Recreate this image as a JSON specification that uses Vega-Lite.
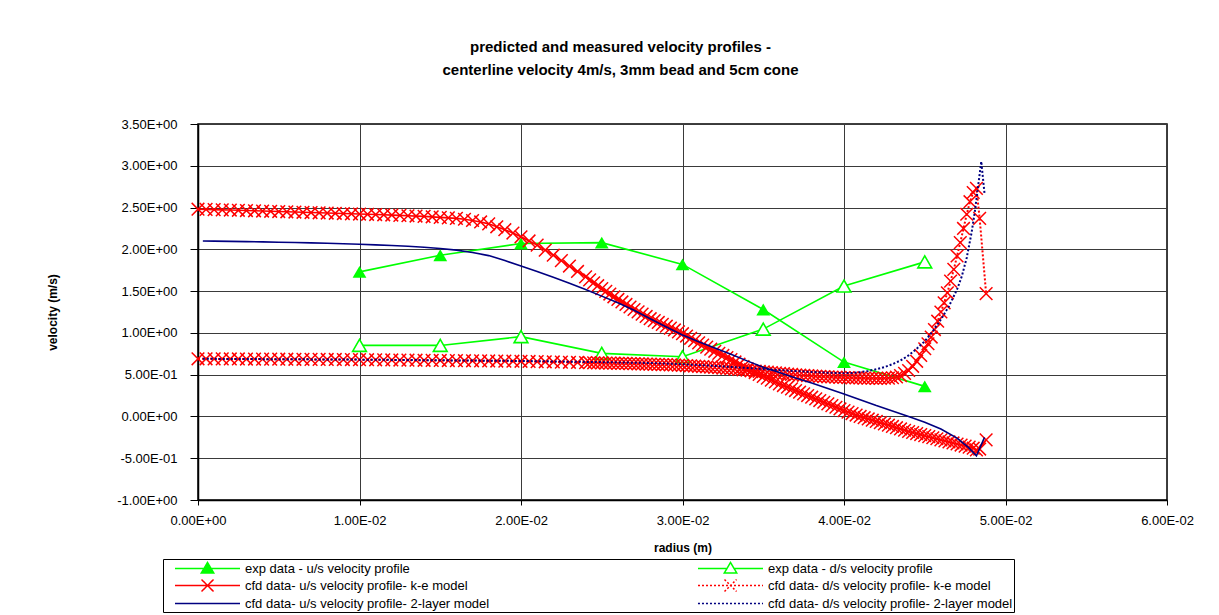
{
  "$schema": "https://vega.github.io/schema/vega-lite/v6.json",
  "width": 969,
  "height": 376,
  "autosize": {"type": "none"},
  "padding": {"left": 198, "top": 124, "right": 52, "bottom": 115},
  "background": "white",
  "title": {
    "text": ["predicted and measured velocity profiles -", "centerline velocity 4m/s, 3mm bead and 5cm cone"],
    "font": "Liberation Sans",
    "fontSize": 15,
    "fontWeight": "bold",
    "color": "black",
    "anchor": "middle",
    "frame": "group",
    "dx": -62,
    "offset": 40,
    "lineHeight": 23
  },
  "datasets": {
    "expU": [
      {"r": 0.01, "v": 1.73}, {"r": 0.015, "v": 1.93}, {"r": 0.02, "v": 2.07}, {"r": 0.025, "v": 2.08},
      {"r": 0.03, "v": 1.82}, {"r": 0.035, "v": 1.28}, {"r": 0.04, "v": 0.65}, {"r": 0.045, "v": 0.36}
    ],
    "expD": [
      {"r": 0.01, "v": 0.85}, {"r": 0.015, "v": 0.85}, {"r": 0.02, "v": 0.955}, {"r": 0.025, "v": 0.755},
      {"r": 0.03, "v": 0.715}, {"r": 0.035, "v": 1.045}, {"r": 0.04, "v": 1.56}, {"r": 0.045, "v": 1.85}
    ],
    "keU": [
      {"r": 0, "v": 2.48}, {"r": 0.0005, "v": 2.478}, {"r": 0.001, "v": 2.475}, {"r": 0.0015, "v": 2.472},
      {"r": 0.002, "v": 2.47}, {"r": 0.0025, "v": 2.467}, {"r": 0.003, "v": 2.464}, {"r": 0.0035, "v": 2.461},
      {"r": 0.004, "v": 2.458}, {"r": 0.0045, "v": 2.455}, {"r": 0.005, "v": 2.452}, {"r": 0.0055, "v": 2.449},
      {"r": 0.006, "v": 2.446}, {"r": 0.0065, "v": 2.443}, {"r": 0.007, "v": 2.44}, {"r": 0.0075, "v": 2.437},
      {"r": 0.008, "v": 2.434}, {"r": 0.0085, "v": 2.431}, {"r": 0.009, "v": 2.428}, {"r": 0.0095, "v": 2.425},
      {"r": 0.01, "v": 2.422}, {"r": 0.0105, "v": 2.419}, {"r": 0.011, "v": 2.416}, {"r": 0.0115, "v": 2.413},
      {"r": 0.012, "v": 2.41}, {"r": 0.0125, "v": 2.406}, {"r": 0.013, "v": 2.402}, {"r": 0.0135, "v": 2.398},
      {"r": 0.014, "v": 2.394}, {"r": 0.0145, "v": 2.389}, {"r": 0.015, "v": 2.383}, {"r": 0.0155, "v": 2.377},
      {"r": 0.016, "v": 2.37}, {"r": 0.0165, "v": 2.36}, {"r": 0.017, "v": 2.345}, {"r": 0.0175, "v": 2.328},
      {"r": 0.018, "v": 2.305}, {"r": 0.0185, "v": 2.27}, {"r": 0.019, "v": 2.235}, {"r": 0.0195, "v": 2.195},
      {"r": 0.02, "v": 2.15}, {"r": 0.0205, "v": 2.1}, {"r": 0.021, "v": 2.05}, {"r": 0.0215, "v": 1.99},
      {"r": 0.022, "v": 1.93}, {"r": 0.0225, "v": 1.865}, {"r": 0.023, "v": 1.8}, {"r": 0.0235, "v": 1.735},
      {"r": 0.024, "v": 1.67}, {"r": 0.02425, "v": 1.635}, {"r": 0.0245, "v": 1.6}, {"r": 0.02475, "v": 1.565},
      {"r": 0.025, "v": 1.53}, {"r": 0.02525, "v": 1.497}, {"r": 0.0255, "v": 1.465}, {"r": 0.02575, "v": 1.432},
      {"r": 0.026, "v": 1.4}, {"r": 0.02625, "v": 1.37}, {"r": 0.0265, "v": 1.34}, {"r": 0.02675, "v": 1.31},
      {"r": 0.027, "v": 1.28}, {"r": 0.02725, "v": 1.252}, {"r": 0.0275, "v": 1.225}, {"r": 0.02775, "v": 1.197},
      {"r": 0.028, "v": 1.17}, {"r": 0.02825, "v": 1.147}, {"r": 0.0285, "v": 1.125}, {"r": 0.02875, "v": 1.102},
      {"r": 0.029, "v": 1.08}, {"r": 0.02925, "v": 1.057}, {"r": 0.0295, "v": 1.035}, {"r": 0.02975, "v": 1.012},
      {"r": 0.03, "v": 0.99}, {"r": 0.03025, "v": 0.962}, {"r": 0.0305, "v": 0.935}, {"r": 0.03075, "v": 0.907},
      {"r": 0.031, "v": 0.88}, {"r": 0.03125, "v": 0.855}, {"r": 0.0315, "v": 0.83}, {"r": 0.03175, "v": 0.805},
      {"r": 0.032, "v": 0.78}, {"r": 0.03225, "v": 0.755}, {"r": 0.0325, "v": 0.73}, {"r": 0.03275, "v": 0.705},
      {"r": 0.033, "v": 0.68}, {"r": 0.03325, "v": 0.652}, {"r": 0.0335, "v": 0.625}, {"r": 0.03375, "v": 0.597},
      {"r": 0.034, "v": 0.57}, {"r": 0.03425, "v": 0.547}, {"r": 0.0345, "v": 0.525}, {"r": 0.03475, "v": 0.502},
      {"r": 0.035, "v": 0.48}, {"r": 0.03525, "v": 0.457}, {"r": 0.0355, "v": 0.435}, {"r": 0.03575, "v": 0.412},
      {"r": 0.036, "v": 0.39}, {"r": 0.03625, "v": 0.37}, {"r": 0.0365, "v": 0.35}, {"r": 0.03675, "v": 0.33},
      {"r": 0.037, "v": 0.31}, {"r": 0.03725, "v": 0.29}, {"r": 0.0375, "v": 0.27}, {"r": 0.03775, "v": 0.25},
      {"r": 0.038, "v": 0.23}, {"r": 0.03825, "v": 0.21}, {"r": 0.0385, "v": 0.19}, {"r": 0.03875, "v": 0.17},
      {"r": 0.039, "v": 0.15}, {"r": 0.03925, "v": 0.13}, {"r": 0.0395, "v": 0.11}, {"r": 0.03975, "v": 0.09},
      {"r": 0.04, "v": 0.07}, {"r": 0.04025, "v": 0.052}, {"r": 0.0405, "v": 0.035}, {"r": 0.04075, "v": 0.017},
      {"r": 0.041, "v": 0.0}, {"r": 0.04125, "v": -0.015}, {"r": 0.0415, "v": -0.03}, {"r": 0.04175, "v": -0.045},
      {"r": 0.042, "v": -0.06}, {"r": 0.04225, "v": -0.075}, {"r": 0.0425, "v": -0.09}, {"r": 0.04275, "v": -0.105},
      {"r": 0.043, "v": -0.12}, {"r": 0.04325, "v": -0.135}, {"r": 0.0435, "v": -0.15}, {"r": 0.04375, "v": -0.165},
      {"r": 0.044, "v": -0.18}, {"r": 0.04425, "v": -0.192}, {"r": 0.0445, "v": -0.205}, {"r": 0.04475, "v": -0.217},
      {"r": 0.045, "v": -0.23}, {"r": 0.04525, "v": -0.242}, {"r": 0.0455, "v": -0.255}, {"r": 0.04575, "v": -0.267},
      {"r": 0.046, "v": -0.28}, {"r": 0.04625, "v": -0.292}, {"r": 0.0465, "v": -0.305}, {"r": 0.04675, "v": -0.317},
      {"r": 0.047, "v": -0.33}, {"r": 0.04725, "v": -0.342}, {"r": 0.0475, "v": -0.355}, {"r": 0.04775, "v": -0.367},
      {"r": 0.048, "v": -0.38}, {"r": 0.0482, "v": -0.4}, {"r": 0.0484, "v": -0.39}, {"r": 0.0488, "v": -0.28}
    ],
    "keD": [
      {"r": 0, "v": 0.69}, {"r": 0.0005, "v": 0.69}, {"r": 0.001, "v": 0.689}, {"r": 0.0015, "v": 0.689},
      {"r": 0.002, "v": 0.688}, {"r": 0.0025, "v": 0.688}, {"r": 0.003, "v": 0.687}, {"r": 0.0035, "v": 0.687},
      {"r": 0.004, "v": 0.686}, {"r": 0.0045, "v": 0.686}, {"r": 0.005, "v": 0.685}, {"r": 0.0055, "v": 0.685},
      {"r": 0.006, "v": 0.684}, {"r": 0.0065, "v": 0.684}, {"r": 0.007, "v": 0.683}, {"r": 0.0075, "v": 0.683},
      {"r": 0.008, "v": 0.682}, {"r": 0.0085, "v": 0.682}, {"r": 0.009, "v": 0.681}, {"r": 0.0095, "v": 0.681},
      {"r": 0.01, "v": 0.68}, {"r": 0.0105, "v": 0.679}, {"r": 0.011, "v": 0.678}, {"r": 0.0115, "v": 0.677},
      {"r": 0.012, "v": 0.676}, {"r": 0.0125, "v": 0.675}, {"r": 0.013, "v": 0.674}, {"r": 0.0135, "v": 0.673},
      {"r": 0.014, "v": 0.672}, {"r": 0.0145, "v": 0.671}, {"r": 0.015, "v": 0.67}, {"r": 0.0155, "v": 0.669},
      {"r": 0.016, "v": 0.668}, {"r": 0.0165, "v": 0.667}, {"r": 0.017, "v": 0.666}, {"r": 0.0175, "v": 0.665},
      {"r": 0.018, "v": 0.664}, {"r": 0.0185, "v": 0.663}, {"r": 0.019, "v": 0.662}, {"r": 0.0195, "v": 0.661},
      {"r": 0.02, "v": 0.66}, {"r": 0.0205, "v": 0.658}, {"r": 0.021, "v": 0.656}, {"r": 0.0215, "v": 0.654},
      {"r": 0.022, "v": 0.652}, {"r": 0.0225, "v": 0.65}, {"r": 0.023, "v": 0.648}, {"r": 0.0235, "v": 0.646},
      {"r": 0.024, "v": 0.644}, {"r": 0.02425, "v": 0.643}, {"r": 0.0245, "v": 0.642}, {"r": 0.02475, "v": 0.641},
      {"r": 0.025, "v": 0.64}, {"r": 0.02525, "v": 0.639}, {"r": 0.0255, "v": 0.638}, {"r": 0.02575, "v": 0.637},
      {"r": 0.026, "v": 0.636}, {"r": 0.02625, "v": 0.635}, {"r": 0.0265, "v": 0.634}, {"r": 0.02675, "v": 0.632},
      {"r": 0.027, "v": 0.631}, {"r": 0.02725, "v": 0.63}, {"r": 0.0275, "v": 0.628}, {"r": 0.02775, "v": 0.627},
      {"r": 0.028, "v": 0.626}, {"r": 0.02825, "v": 0.624}, {"r": 0.0285, "v": 0.623}, {"r": 0.02875, "v": 0.621},
      {"r": 0.029, "v": 0.62}, {"r": 0.02925, "v": 0.618}, {"r": 0.0295, "v": 0.616}, {"r": 0.02975, "v": 0.614},
      {"r": 0.03, "v": 0.612}, {"r": 0.03025, "v": 0.609}, {"r": 0.0305, "v": 0.606}, {"r": 0.03075, "v": 0.603},
      {"r": 0.031, "v": 0.6}, {"r": 0.03125, "v": 0.597}, {"r": 0.0315, "v": 0.594}, {"r": 0.03175, "v": 0.59},
      {"r": 0.032, "v": 0.587}, {"r": 0.03225, "v": 0.583}, {"r": 0.0325, "v": 0.579}, {"r": 0.03275, "v": 0.575},
      {"r": 0.033, "v": 0.571}, {"r": 0.03325, "v": 0.567}, {"r": 0.0335, "v": 0.562}, {"r": 0.03375, "v": 0.558},
      {"r": 0.034, "v": 0.553}, {"r": 0.03425, "v": 0.549}, {"r": 0.0345, "v": 0.544}, {"r": 0.03475, "v": 0.539},
      {"r": 0.035, "v": 0.535}, {"r": 0.03525, "v": 0.53}, {"r": 0.0355, "v": 0.526}, {"r": 0.03575, "v": 0.521},
      {"r": 0.036, "v": 0.517}, {"r": 0.03625, "v": 0.512}, {"r": 0.0365, "v": 0.508}, {"r": 0.03675, "v": 0.503},
      {"r": 0.037, "v": 0.499}, {"r": 0.03725, "v": 0.495}, {"r": 0.0375, "v": 0.491}, {"r": 0.03775, "v": 0.488},
      {"r": 0.038, "v": 0.485}, {"r": 0.03825, "v": 0.482}, {"r": 0.0385, "v": 0.479}, {"r": 0.03875, "v": 0.476},
      {"r": 0.039, "v": 0.474}, {"r": 0.03925, "v": 0.472}, {"r": 0.0395, "v": 0.47}, {"r": 0.03975, "v": 0.468},
      {"r": 0.04, "v": 0.466}, {"r": 0.04025, "v": 0.464}, {"r": 0.0405, "v": 0.462}, {"r": 0.04075, "v": 0.461},
      {"r": 0.041, "v": 0.46}, {"r": 0.04125, "v": 0.459}, {"r": 0.0415, "v": 0.458}, {"r": 0.04175, "v": 0.457},
      {"r": 0.042, "v": 0.456}, {"r": 0.04225, "v": 0.456}, {"r": 0.0425, "v": 0.457}, {"r": 0.04275, "v": 0.459},
      {"r": 0.043, "v": 0.463}, {"r": 0.04325, "v": 0.472}, {"r": 0.0435, "v": 0.488}, {"r": 0.04375, "v": 0.515},
      {"r": 0.044, "v": 0.55}, {"r": 0.04425, "v": 0.6}, {"r": 0.0445, "v": 0.66}, {"r": 0.04475, "v": 0.73},
      {"r": 0.045, "v": 0.81}, {"r": 0.0452, "v": 0.87}, {"r": 0.0454, "v": 0.95}, {"r": 0.0456, "v": 1.04},
      {"r": 0.0458, "v": 1.14}, {"r": 0.046, "v": 1.25}, {"r": 0.0462, "v": 1.36}, {"r": 0.0464, "v": 1.48},
      {"r": 0.0466, "v": 1.62}, {"r": 0.0468, "v": 1.76}, {"r": 0.047, "v": 1.92}, {"r": 0.0472, "v": 2.08},
      {"r": 0.0474, "v": 2.25}, {"r": 0.0476, "v": 2.42}, {"r": 0.0478, "v": 2.57}, {"r": 0.048, "v": 2.68},
      {"r": 0.0482, "v": 2.73}, {"r": 0.0484, "v": 2.37}, {"r": 0.0488, "v": 1.47}
    ],
    "tlU": [
      {"r": 0.0003, "v": 2.1}, {"r": 0.001, "v": 2.098}, {"r": 0.002, "v": 2.095}, {"r": 0.003, "v": 2.092},
      {"r": 0.004, "v": 2.089}, {"r": 0.005, "v": 2.085}, {"r": 0.006, "v": 2.081}, {"r": 0.007, "v": 2.077},
      {"r": 0.008, "v": 2.072}, {"r": 0.009, "v": 2.066}, {"r": 0.01, "v": 2.06}, {"r": 0.011, "v": 2.053},
      {"r": 0.012, "v": 2.045}, {"r": 0.013, "v": 2.036}, {"r": 0.014, "v": 2.025}, {"r": 0.015, "v": 2.01},
      {"r": 0.016, "v": 1.99}, {"r": 0.017, "v": 1.962}, {"r": 0.018, "v": 1.925}, {"r": 0.019, "v": 1.866},
      {"r": 0.02, "v": 1.8}, {"r": 0.021, "v": 1.735}, {"r": 0.022, "v": 1.665}, {"r": 0.023, "v": 1.595},
      {"r": 0.024, "v": 1.52}, {"r": 0.025, "v": 1.44}, {"r": 0.026, "v": 1.36}, {"r": 0.027, "v": 1.27},
      {"r": 0.028, "v": 1.17}, {"r": 0.029, "v": 1.07}, {"r": 0.03, "v": 0.975}, {"r": 0.031, "v": 0.895},
      {"r": 0.032, "v": 0.82}, {"r": 0.033, "v": 0.745}, {"r": 0.034, "v": 0.665}, {"r": 0.035, "v": 0.59},
      {"r": 0.036, "v": 0.525}, {"r": 0.037, "v": 0.46}, {"r": 0.038, "v": 0.4}, {"r": 0.039, "v": 0.335},
      {"r": 0.04, "v": 0.27}, {"r": 0.041, "v": 0.2}, {"r": 0.042, "v": 0.13}, {"r": 0.043, "v": 0.065},
      {"r": 0.044, "v": 0.0}, {"r": 0.045, "v": -0.07}, {"r": 0.046, "v": -0.15}, {"r": 0.047, "v": -0.26},
      {"r": 0.0477, "v": -0.37}, {"r": 0.0482, "v": -0.47}, {"r": 0.0487, "v": -0.25}
    ],
    "tlD": [
      {"r": 0.0003, "v": 0.69}, {"r": 0.002, "v": 0.688}, {"r": 0.005, "v": 0.685}, {"r": 0.01, "v": 0.68},
      {"r": 0.015, "v": 0.672}, {"r": 0.02, "v": 0.664}, {"r": 0.025, "v": 0.65}, {"r": 0.028, "v": 0.64},
      {"r": 0.03, "v": 0.625}, {"r": 0.032, "v": 0.605}, {"r": 0.034, "v": 0.58}, {"r": 0.035, "v": 0.567},
      {"r": 0.036, "v": 0.555}, {"r": 0.037, "v": 0.543}, {"r": 0.038, "v": 0.532}, {"r": 0.039, "v": 0.523},
      {"r": 0.04, "v": 0.518}, {"r": 0.0405, "v": 0.52}, {"r": 0.041, "v": 0.53}, {"r": 0.0415, "v": 0.545},
      {"r": 0.042, "v": 0.565}, {"r": 0.0425, "v": 0.59}, {"r": 0.043, "v": 0.625}, {"r": 0.0435, "v": 0.67},
      {"r": 0.044, "v": 0.73}, {"r": 0.0445, "v": 0.81}, {"r": 0.045, "v": 0.9}, {"r": 0.0455, "v": 1.02},
      {"r": 0.046, "v": 1.16}, {"r": 0.0465, "v": 1.32}, {"r": 0.047, "v": 1.52}, {"r": 0.0473, "v": 1.68},
      {"r": 0.0476, "v": 1.9}, {"r": 0.0479, "v": 2.2}, {"r": 0.0481, "v": 2.45}, {"r": 0.0483, "v": 2.75},
      {"r": 0.0485, "v": 3.05}, {"r": 0.0487, "v": 2.67}
    ],
    "legend": [
      {"series": "exp data - u/s velocity profile", "r": 0.01, "v": 1.73},
      {"series": "exp data - d/s velocity profile", "r": 0.01, "v": 0.85},
      {"series": "cfd data- u/s velocity profile- k-e model", "r": 0, "v": 2.48},
      {"series": "cfd data- d/s velocity profile- k-e model", "r": 0, "v": 0.69},
      {"series": "cfd data- u/s velocity profile- 2-layer model", "r": 0.0003, "v": 2.1},
      {"series": "cfd data- d/s velocity profile- 2-layer model", "r": 0.0003, "v": 0.69}
    ]
  },
  "encoding": {
    "x": {
      "field": "r",
      "type": "quantitative",
      "scale": {"domain": [0, 0.06], "nice": false, "zero": false},
      "axis": {
        "title": "radius (m)",
        "values": [0, 0.01, 0.02, 0.03, 0.04, 0.05, 0.06],
        "labelExpr": "replace(replace(replace(format(datum.value, '.2e'), '\u2212', '-'), 'e+', 'E+0'), 'e-', 'E-0')",
        "labelFlush": false,
        "labelOverlap": false,
        "tickSize": 5,
        "labelPadding": 9,
        "titlePadding": 15
      }
    },
    "y": {
      "field": "v",
      "type": "quantitative",
      "scale": {"domain": [-1, 3.5], "nice": false, "zero": false},
      "axis": {
        "title": "velocity (m/s)",
        "values": [-1, -0.5, 0, 0.5, 1, 1.5, 2, 2.5, 3, 3.5],
        "labelExpr": "replace(replace(replace(format(datum.value, '.2e'), '\u2212', '-'), 'e+', 'E+0'), 'e-', 'E-0')",
        "labelFlush": false,
        "labelOverlap": false,
        "tickSize": 8,
        "labelPadding": 13,
        "titleX": -146,
        "titleY": 188,
        "titleAngle": 270,
        "titleBaseline": "middle",
        "titleAlign": "center"
      }
    }
  },
  "layer": [
    {"data": {"name": "expU"}, "mark": {"type": "line", "color": "#00FF00", "strokeWidth": 1.6}},
    {"data": {"name": "expU"}, "mark": {"type": "point", "shape": "triangle-up", "size": 190, "filled": true, "color": "#00FF00", "opacity": 1}},
    {"data": {"name": "expD"}, "mark": {"type": "line", "color": "#00FF00", "strokeWidth": 1.6}},
    {"data": {"name": "expD"}, "mark": {"type": "point", "shape": "triangle-up", "size": 190, "filled": true, "fill": "white", "stroke": "#00FF00", "strokeWidth": 1.6, "opacity": 1}},
    {"data": {"name": "keU"}, "mark": {"type": "line", "color": "#FF0000", "strokeWidth": 1.6}},
    {"data": {"name": "keU"}, "mark": {"type": "point", "shape": "M-1,-1L1,1M-1,1L1,-1", "size": 160, "filled": false, "stroke": "#FF0000", "strokeWidth": 1.5, "opacity": 1}},
    {"data": {"name": "keD"}, "mark": {"type": "line", "color": "#FF0000", "strokeWidth": 2, "strokeDash": [2, 2]}},
    {"data": {"name": "keD"}, "mark": {"type": "point", "shape": "M-1,-1L1,1M-1,1L1,-1", "size": 160, "filled": false, "stroke": "#FF0000", "strokeWidth": 1.5, "opacity": 1}},
    {"data": {"name": "tlU"}, "mark": {"type": "line", "color": "#000080", "strokeWidth": 1.6}},
    {"data": {"name": "tlD"}, "mark": {"type": "line", "color": "#000080", "strokeWidth": 2, "strokeDash": [2, 2]}},
    {
      "data": {"name": "legend"},
      "mark": {"type": "point", "opacity": 0, "strokeWidth": 1.5},
      "encoding": {
        "shape": {
          "field": "series",
          "type": "nominal",
          "scale": {
            "domain": ["exp data - u/s velocity profile", "cfd data- u/s velocity profile- k-e model", "cfd data- u/s velocity profile- 2-layer model", "exp data - d/s velocity profile", "cfd data- d/s velocity profile- k-e model", "cfd data- d/s velocity profile- 2-layer model"],
            "range": [
              "M0.33,0L9,0M4.67,-0.8L5.5,0.6L3.84,0.6Z",
              "M0.33,0L9,0M3.87,-0.8L5.47,0.8M3.87,0.8L5.47,-0.8",
              "M0.33,0L9,0",
              "M0.33,0L4.2,0M5.14,0L9,0M4.67,-0.8L5.5,0.6L3.84,0.6Z",
              "M0.33,0L9,0M3.87,-0.8L5.47,0.8M3.87,0.8L5.47,-0.8",
              "M0.33,0L9,0"
            ]
          },
          "legend": {"title": null, "orient": "none", "legendX": -35, "legendY": 435}
        },
        "stroke": {
          "field": "series",
          "type": "nominal",
          "scale": {
            "domain": ["exp data - u/s velocity profile", "cfd data- u/s velocity profile- k-e model", "cfd data- u/s velocity profile- 2-layer model", "exp data - d/s velocity profile", "cfd data- d/s velocity profile- k-e model", "cfd data- d/s velocity profile- 2-layer model"],
            "range": ["#00FF00", "#FF0000", "#000080", "#00FF00", "#FF0000", "#000080"]
          },
          "legend": {"title": null}
        },
        "fill": {
          "field": "series",
          "type": "nominal",
          "scale": {
            "domain": ["exp data - u/s velocity profile", "cfd data- u/s velocity profile- k-e model", "cfd data- u/s velocity profile- 2-layer model", "exp data - d/s velocity profile", "cfd data- d/s velocity profile- k-e model", "cfd data- d/s velocity profile- 2-layer model"],
            "range": ["#00FF00", "transparent", "transparent", "#FFFFFF", "transparent", "transparent"]
          },
          "legend": {"title": null}
        },
        "strokeDash": {
          "field": "series",
          "type": "nominal",
          "scale": {
            "domain": ["exp data - u/s velocity profile", "cfd data- u/s velocity profile- k-e model", "cfd data- u/s velocity profile- 2-layer model", "exp data - d/s velocity profile", "cfd data- d/s velocity profile- k-e model", "cfd data- d/s velocity profile- 2-layer model"],
            "range": [[1, 0], [1, 0], [1, 0], [1, 0], [2, 2], [2, 2]]
          },
          "legend": {"title": null}
        }
      }
    }
  ],
  "config": {
    "font": "Liberation Sans",
    "view": {"stroke": "black", "strokeWidth": 1.5},
    "axis": {
      "grid": true,
      "gridColor": "#3a3a3a",
      "gridWidth": 1,
      "gridOpacity": 1,
      "domainColor": "black",
      "domainWidth": 1.5,
      "tickColor": "black",
      "tickWidth": 1,
      "labelFont": "Liberation Sans",
      "labelFontSize": 13,
      "labelColor": "black",
      "titleFont": "Liberation Sans",
      "titleFontSize": 12,
      "titleFontWeight": "bold",
      "titleColor": "black"
    },
    "legend": {
      "orient": "none",
      "columns": 2,
      "columnPadding": 197,
      "rowPadding": 0,
      "symbolSize": 225,
      "symbolStrokeWidth": 1.5,
      "symbolOpacity": 1,
      "labelOffset": 64,
      "labelFont": "Liberation Sans",
      "labelFontSize": 13,
      "labelColor": "black",
      "labelLimit": 600,
      "padding": 1,
      "strokeColor": "black",
      "fillColor": "white"
    }
  }
}
